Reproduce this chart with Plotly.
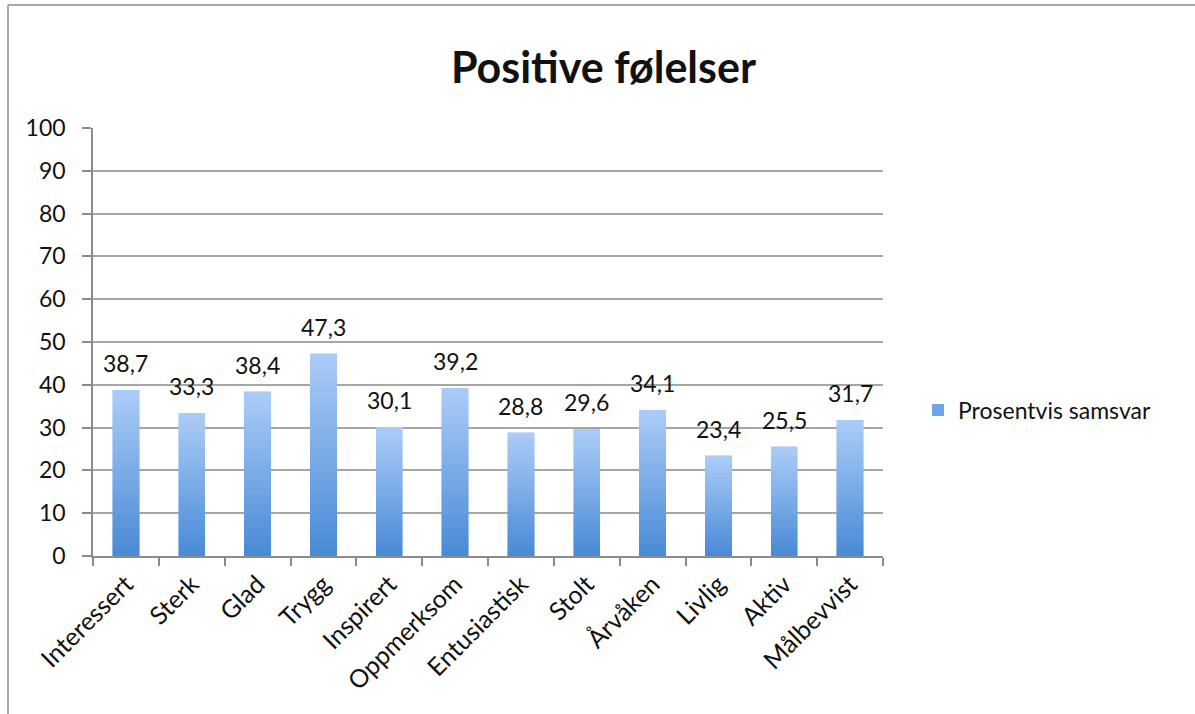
import plotly.graph_objects as go

categories = ["Interessert", "Sterk", "Glad", "Trygg", "Inspirert", "Oppmerksom",
              "Entusiastisk", "Stolt", "Årvåken", "Livlig", "Aktiv", "Målbevvist"]
values = [38.7, 33.3, 38.4, 47.3, 30.1, 39.2, 28.8, 29.6, 34.1, 23.4, 25.5, 31.7]
value_labels = ["38,7", "33,3", "38,4", "47,3", "30,1", "39,2", "28,8", "29,6",
                "34,1", "23,4", "25,5", "31,7"]
series_name = "Prosentvis samsvar"
y_ticks = [0, 10, 20, 30, 40, 50, 60, 70, 80, 90, 100]

FONT = "Lato, Calibri, Carlito, sans-serif"
TXT = "#111111"
GRID = "#a6a6a6"
FS = 23

# gradient colours (bottom -> top)
c_bot = (0x4a, 0x8b, 0xd6)
c_top = (0xaa, 0xcb, 0xf7)
N = 24

fig = go.Figure()
for i in range(N):
    t = i / (N - 1)
    col = tuple(round(c_bot[k] + (c_top[k] - c_bot[k]) * t) for k in range(3))
    fig.add_trace(go.Bar(
        x=categories, y=[v / N for v in values],
        marker=dict(color="rgb(%d,%d,%d)" % col, line=dict(width=0.6, color="rgb(%d,%d,%d)" % col)),
        width=0.4, showlegend=False, hoverinfo="skip",
    ))

# legend entry
fig.add_trace(go.Scatter(
    x=[None], y=[None], mode="markers", name=series_name,
    marker=dict(symbol="square", size=12, color="#6fa3e6"),
))

for c, v, lab in zip(categories, values, value_labels):
    fig.add_annotation(x=c, y=v, text=lab, showarrow=False, yanchor="bottom",
                       yshift=11, font=dict(family=FONT, size=FS, color=TXT))

# outer frame (cropped on right/bottom)
px0, pw, py0, ph = 93, 790, 556, 428
def xp(px): return (px - px0) / pw
def yp(py): return (py0 - py) / ph
fig.add_shape(type="line", xref="paper", yref="paper", x0=xp(8), x1=xp(8), y0=yp(5), y1=yp(720),
              line=dict(color="#a8a8a8", width=2))
fig.add_shape(type="line", xref="paper", yref="paper", x0=xp(8), x1=xp(1200), y0=yp(5), y1=yp(5),
              line=dict(color="#a8a8a8", width=2))

fig.update_layout(
    width=1195, height=714,
    margin=dict(l=93, r=312, t=128, b=158, autoexpand=False),
    plot_bgcolor="white", paper_bgcolor="white",
    barmode="stack", bargap=0.6,
    title=dict(text="<b>Positive følelser</b>", x=0.505, xanchor="center", y=0.905, yanchor="middle",
               font=dict(family=FONT, size=43, color=TXT)),
    font=dict(family=FONT, size=FS, color=TXT),
    legend=dict(x=xp(918), y=yp(410), xanchor="left", yanchor="middle",
                font=dict(family=FONT, size=FS, color=TXT), bgcolor="rgba(0,0,0,0)"),
    showlegend=True,
)
fig.update_yaxes(range=[0, 100], tickvals=y_ticks, showgrid=True, gridcolor=GRID, gridwidth=1.5,
                 showline=True, linecolor="#8c8c8c", linewidth=1.5, ticks="outside", ticklen=9,
                 tickcolor="#8c8c8c", tickwidth=1.5, zeroline=False, ticklabelstandoff=12,
                 tickfont=dict(family=FONT, size=FS, color=TXT))
fig.update_xaxes(showline=True, linecolor="#8c8c8c", linewidth=1.5, ticks="outside", ticklen=8,
                 tickcolor="#8c8c8c", tickwidth=1.5, tickson="boundaries", tickangle=-45,
                 ticklabelstandoff=2,
                 showgrid=False, tickfont=dict(family=FONT, size=25, color=TXT))

fig.write_html("out.html")
